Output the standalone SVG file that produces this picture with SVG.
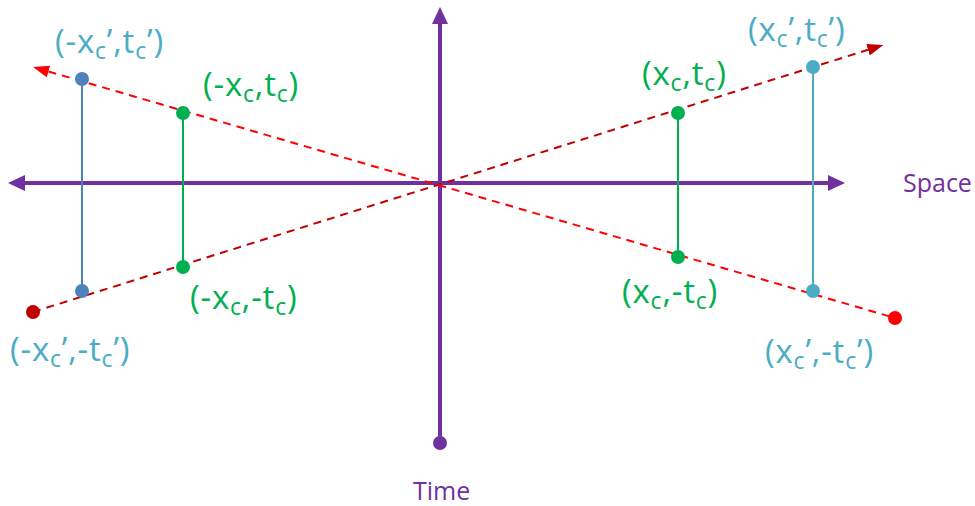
<svg xmlns="http://www.w3.org/2000/svg" width="975" height="506" viewBox="0 0 975 506">
<defs>
<style>
.axis{stroke:#7030A0;stroke-width:4;fill:none}
.dash{stroke-width:2;stroke-dasharray:8 6;fill:none}
.lbl{font-family:"Open Sans","Liberation Sans",sans-serif;font-size:33px;letter-spacing:0.8px}
.g{fill:#00B050}
.b{fill:#4BACC6}
.ax{font-family:"Open Sans","Liberation Sans",sans-serif;font-size:25px;fill:#7030A0}
.sub{font-size:23px}
</style>
<marker id="pa" markerUnits="userSpaceOnUse" markerWidth="20" markerHeight="20" refX="0" refY="8" orient="auto-start-reverse" viewBox="0 0 20 16"><path d="M0,0 L17,8 L0,16 z" fill="#7030A0"/></marker>
<marker id="ra" markerUnits="userSpaceOnUse" markerWidth="18" markerHeight="14" refX="0" refY="6" orient="auto-start-reverse" viewBox="0 0 18 12"><path d="M0,0 L16,6 L0,12 z" fill="#FF0000"/></marker>
<marker id="da" markerUnits="userSpaceOnUse" markerWidth="18" markerHeight="14" refX="0" refY="6" orient="auto-start-reverse" viewBox="0 0 18 12"><path d="M0,0 L16,6 L0,12 z" fill="#C00000"/></marker>
</defs>
<rect width="975" height="506" fill="#FFFFFF"/>
<g id="connectors">
<line class="axis" x1="25" y1="183" x2="828" y2="183" marker-start="url(#pa)" marker-end="url(#pa)"/>
<line class="axis" x1="440" y1="443" x2="440" y2="24" marker-end="url(#pa)"/>
<line class="dash" stroke="#C00000" x1="33" y1="312" x2="868" y2="49.8" marker-end="url(#da)"/>
<line class="dash" stroke="#FF0000" x1="48.4" y1="71.5" x2="895" y2="318" marker-start="url(#ra)"/>
<line stroke="#4F81BD" stroke-width="2" x1="82" y1="79" x2="82" y2="291"/>
<line stroke="#00B050" stroke-width="2" x1="183" y1="113" x2="183" y2="267"/>
<line stroke="#00B050" stroke-width="2" x1="678" y1="113" x2="678" y2="257"/>
<line stroke="#4BACC6" stroke-width="2" x1="813" y1="67" x2="813" y2="291"/>
</g>
<g id="time-end"><circle cx="440" cy="443" r="7" fill="#7030A0"/></g>
<g id="p-neg-xcp-tcp"><circle cx="82" cy="79" r="7" fill="#4F81BD"/><text class="lbl b" x="55" y="53">(-x<tspan class="sub" dy="6">c</tspan><tspan dy="-6">’,t</tspan><tspan class="sub" dy="6">c</tspan><tspan dy="-6">’)</tspan></text></g>
<g id="p-neg-xc-tc"><circle cx="183" cy="113" r="7" fill="#00B050"/><text class="lbl g" x="203" y="96">(-x<tspan class="sub" dy="6">c</tspan><tspan dy="-6">,t</tspan><tspan class="sub" dy="6">c</tspan><tspan dy="-6">)</tspan></text></g>
<g id="p-xc-tc"><circle cx="678" cy="113" r="7" fill="#00B050"/><text class="lbl g" x="642" y="85">(x<tspan class="sub" dy="6">c</tspan><tspan dy="-6">,t</tspan><tspan class="sub" dy="6">c</tspan><tspan dy="-6">)</tspan></text></g>
<g id="p-xcp-tcp"><circle cx="813" cy="67" r="7" fill="#4BACC6"/><text class="lbl b" x="748" y="41">(x<tspan class="sub" dy="6">c</tspan><tspan dy="-6">’,t</tspan><tspan class="sub" dy="6">c</tspan><tspan dy="-6">’)</tspan></text></g>
<g id="p-neg-xc-neg-tc"><circle cx="183" cy="267" r="7" fill="#00B050"/><text class="lbl g" x="190" y="309">(-x<tspan class="sub" dy="6">c</tspan><tspan dy="-6">,-t</tspan><tspan class="sub" dy="6">c</tspan><tspan dy="-6">)</tspan></text></g>
<g id="p-neg-xcp-neg-tcp"><circle cx="82" cy="291" r="7" fill="#4F81BD"/><circle cx="33" cy="312" r="7" fill="#C00000"/><text class="lbl b" x="10" y="361">(-x<tspan class="sub" dy="6">c</tspan><tspan dy="-6">’,-t</tspan><tspan class="sub" dy="6">c</tspan><tspan dy="-6">’)</tspan></text></g>
<g id="p-xc-neg-tc"><circle cx="678" cy="257" r="7" fill="#00B050"/><text class="lbl g" x="622" y="303">(x<tspan class="sub" dy="6">c</tspan><tspan dy="-6">,-t</tspan><tspan class="sub" dy="6">c</tspan><tspan dy="-6">)</tspan></text></g>
<g id="p-xcp-neg-tcp"><circle cx="813" cy="291" r="7" fill="#4BACC6"/><circle cx="895" cy="318" r="7" fill="#FF0000"/><text class="lbl b" x="765" y="363">(x<tspan class="sub" dy="6">c</tspan><tspan dy="-6">’,-t</tspan><tspan class="sub" dy="6">c</tspan><tspan dy="-6">’)</tspan></text></g>
<g id="space-label"><text class="ax" x="903" y="192">Space</text></g>
<g id="time-label"><text class="ax" x="413" y="500">Time</text></g>
</svg>
